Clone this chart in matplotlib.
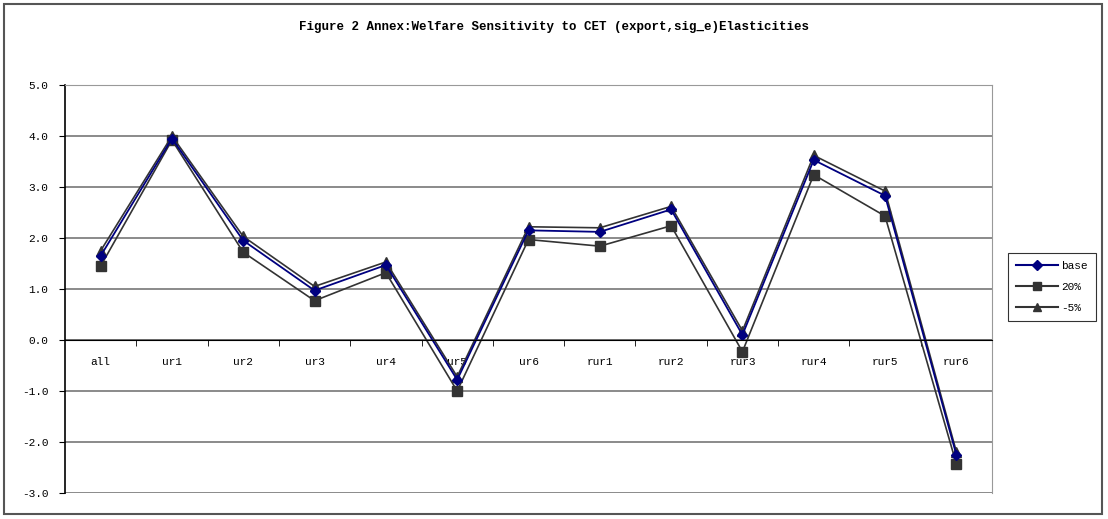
import matplotlib.pyplot as plt
import matplotlib.patches as patches
from matplotlib.lines import Line2D

categories = ['all', 'ur1', 'ur2', 'ur3', 'ur4', 'ur5', 'ur6',
              'rur1', 'rur2', 'rur3', 'rur4', 'rur5', 'rur6']
base = [1.65, 3.95, 1.95, 0.97, 1.47, -0.78, 2.15, 2.12, 2.56, 0.10, 3.53, 2.83, -2.25]
pct20 = [1.45, 3.92, 1.72, 0.77, 1.32, -1.00, 1.97, 1.84, 2.24, -0.23, 3.24, 2.43, -2.43]
neg5 = [1.75, 4.00, 2.03, 1.05, 1.53, -0.72, 2.22, 2.20, 2.62, 0.18, 3.62, 2.92, -2.19]
y_ticks = [-3, -2, -1, 0, 1, 2, 3, 4, 5]

font = 'Liberation Mono'
dark = '#333333'
navy = '#000080'


def create_chart():
    fig = plt.figure(figsize=(11.08, 5.19), dpi=100)
    ax = fig.add_axes([65 / 1108, 26 / 519, 927 / 1108, 408 / 519])

    # outer chart frame
    fig.patches.append(patches.Rectangle((4 / 1108, 5 / 519), 1098 / 1108, 510 / 519,
                                         transform=fig.transFigure, fill=False,
                                         edgecolor='#555555', linewidth=1.5))

    x = list(range(len(categories)))
    ax.plot(x, pct20, color=dark, marker='s', markersize=7, linewidth=1.2, label='20%')
    ax.plot(x, neg5, color=dark, marker='^', markersize=7, linewidth=1.2, label='-5%')
    ax.plot(x, base, color=navy, marker='D', markersize=5, linewidth=1.3, label='base')

    ax.set_xlim(-0.5, len(categories) - 0.5)
    ax.set_ylim(-3, 5)
    ax.set_yticks(y_ticks)
    ax.set_yticklabels([f'{v:.1f}' for v in y_ticks], fontfamily=font, fontsize=8)
    for v in y_ticks:
        ax.axhline(v, color='#777777' if v != 0 else '#555555', linewidth=1.2, zorder=0)

    ax.spines['bottom'].set_position(('data', 0))
    ax.spines['bottom'].set_color('black')
    ax.spines['top'].set_color('#999999')
    ax.spines['right'].set_color('#999999')
    ax.spines['left'].set_color('black')
    ax.spines['left'].set_linewidth(1.2)

    ax.set_xticks(x)
    ax.set_xticklabels(categories, fontfamily=font, fontsize=8)
    ax.set_xticks([i + 0.5 for i in x[:-1]], minor=True)
    ax.tick_params(axis='x', which='major', length=0, pad=12)
    ax.tick_params(axis='x', which='minor', length=4, direction='out')
    ax.tick_params(axis='y', length=4, direction='out', pad=8)

    fig.text(0.5, 1 - 27 / 519, 'Figure 2 Annex:Welfare Sensitivity to CET (export,sig_e)Elasticities',
             ha='center', va='center', fontfamily=font, fontsize=9, fontweight='bold')

    handles = [Line2D([], [], color=navy, marker='D', markersize=5, label='base'),
               Line2D([], [], color=dark, marker='s', markersize=6, label='20%'),
               Line2D([], [], color=dark, marker='^', markersize=6, label='-5%')]
    leg = fig.legend(handles=handles, loc='center left', bbox_to_anchor=(1008 / 1108, 1 - 287 / 519),
                     prop={'family': font, 'size': 8}, frameon=True, fancybox=False,
                     handlelength=3.8, handletextpad=0.3, borderpad=0.7, labelspacing=1.0,
                     borderaxespad=0)
    leg.get_frame().set_edgecolor('black')
    leg.get_frame().set_linewidth(0.8)

    fig.savefig('out.png', dpi=100)
    plt.close(fig)


if __name__ == '__main__':
    create_chart()
